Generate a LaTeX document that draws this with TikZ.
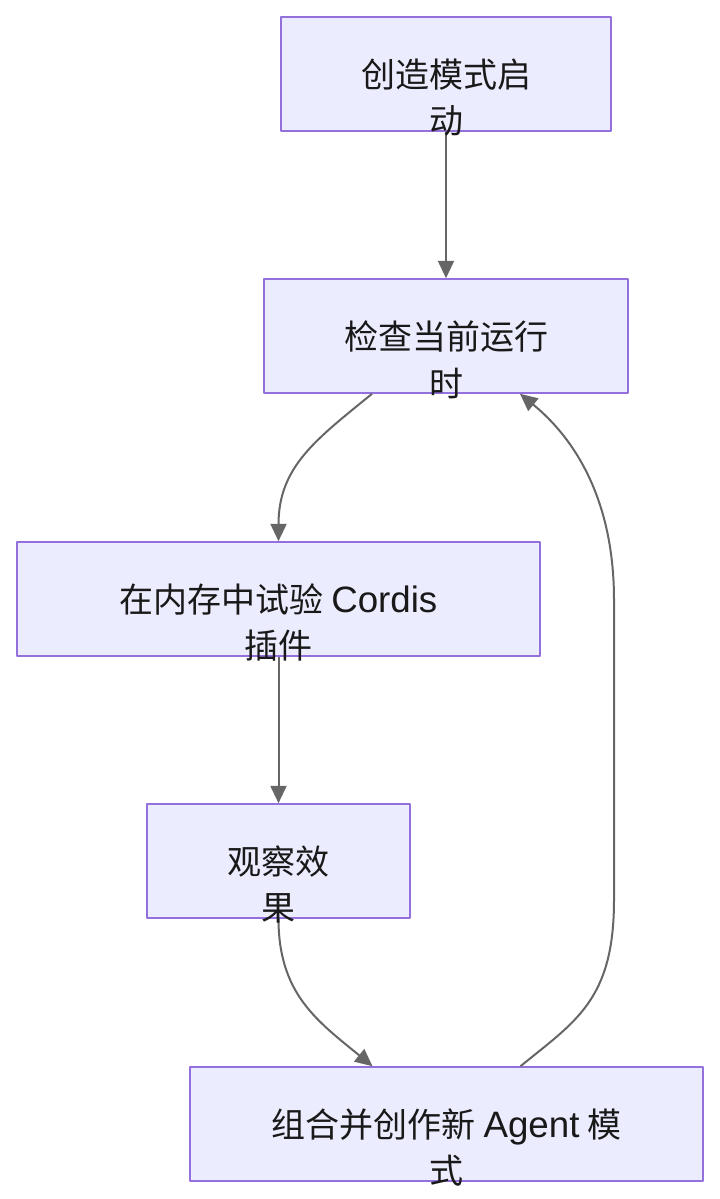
\documentclass[tikz,border=0pt]{standalone}
\usepackage{fontspec}
\newfontfamily\cjk{Noto Sans CJK SC}
\newfontfamily\latin[Scale=1.08]{Liberation Sans}
\usetikzlibrary{arrows.meta}
\definecolor{boxfill}{HTML}{ECECFF}
\definecolor{boxline}{HTML}{9370DB}
\definecolor{arrowgray}{HTML}{666666}
\tikzset{
	stepbox/.style={draw=boxline, fill=boxfill, line width=1.2pt, minimum height=85.5pt, inner sep=0pt},
	steptext/.style={font=\cjk\fontsize{25.5}{35}\selectfont, text=black!90, align=center, inner sep=0pt},
	flow/.style={draw=arrowgray, line width=1.5pt, ->}
}
\begin{document}
\begin{tikzpicture}[x=0.75pt,y=-0.75pt,line join=round,>={Triangle[length=13pt,width=12pt]}]
	\useasboundingbox (0,0) rectangle (720,1199);
	% boxes
	\node[stepbox, minimum width=247.5pt] (start) at (446,74) {};
	\node[stepbox, minimum width=273pt] (check) at (446,336) {};
	\node[stepbox, minimum width=392.25pt] (trial) at (278.5,599) {};
	\node[stepbox, minimum width=197.25pt] (observe) at (278.5,861) {};
	\node[stepbox, minimum width=384.75pt] (compose) at (446.5,1124) {};
	% connectors
	\draw[flow] (start) -- (check);
	\draw[flow] ([xshift=-55.5pt]check.south) .. controls +(-55,45) and +(0,-75) .. (trial.north);
	\draw[flow] (trial) -- (observe);
	\draw[flow] (observe.south) .. controls +(0,75) and +(-55,-45) .. ([xshift=-55.5pt]compose.north);
	\draw[flow] ([xshift=55.5pt]compose.north) .. controls +(55,-45) and +(0,100) .. (614,900) -- (614,600)
		.. controls +(0,-100) and +(55,45) .. ([xshift=55.5pt]check.south);
	% texts
	\node[steptext] (startlabel) at ([yshift=-17.6pt]start.center) {创造模式启\\动};
	\node[steptext] (checklabel) at ([yshift=-17.6pt]check.center) {检查当前运行\\时};
	\node[steptext] (triallabel) at ([yshift=-17.6pt]trial.center) {在内存中试验 {\latin Cordis}\\插件};
	\node[steptext] (observelabel) at ([yshift=-17.6pt]observe.center) {观察效\\果};
	\node[steptext] (composelabel) at ([yshift=-17.6pt]compose.center) {组合并创作新 {\latin Agent} 模\\式};
\end{tikzpicture}
\end{document}
